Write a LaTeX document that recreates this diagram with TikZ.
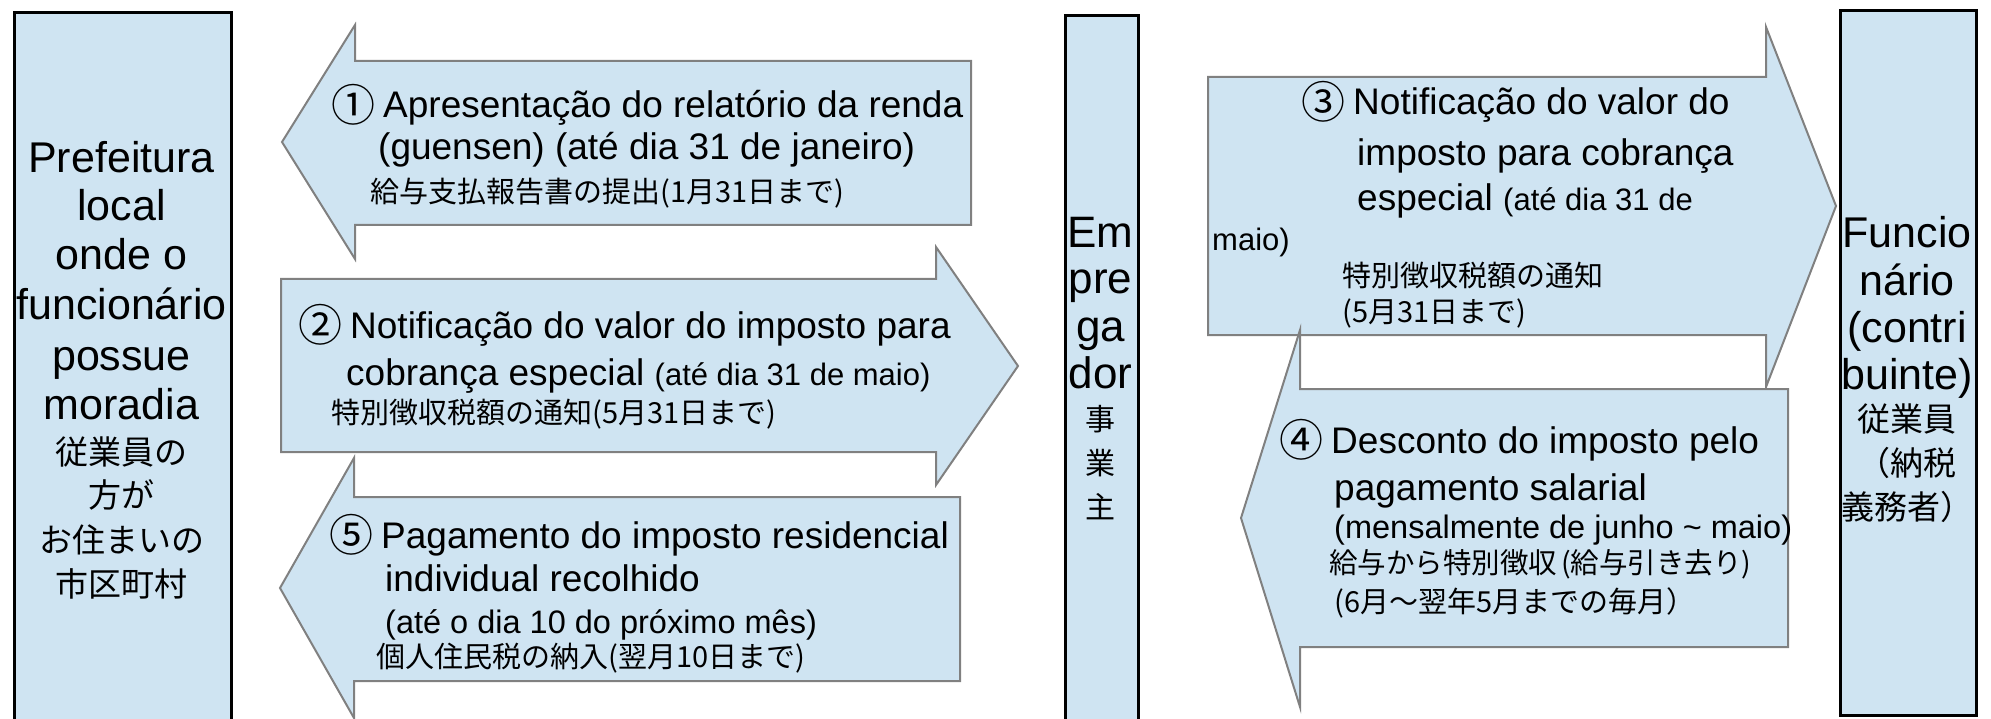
\documentclass[tikz,border=0pt]{standalone}
\usepackage{fontspec}
\setmainfont{Liberation Sans}
\newfontfamily\jp{Noto Sans CJK JP}
\definecolor{lb}{RGB}{207,228,242}
\definecolor{edgegray}{RGB}{128,128,128}
\newcommand{\mf}{\fontsize{37}{44}\selectfont}
\newcommand{\smf}{\fontsize{31}{37}\selectfont}
\newcommand{\ssmf}{\fontsize{32.5}{38}\selectfont}
\newcommand{\jf}{\jp\fontsize{29}{34}\selectfont}
\newcommand{\boxfont}{\fontsize{43}{50}\selectfont}
\newcommand{\cnum}[1]{\makebox[48pt][l]{\hspace*{-4pt}\raisebox{-3.5pt}{\jp\fontsize{44}{44}\selectfont #1}}}
\begin{document}
\begin{tikzpicture}[x=1pt,y=-1pt,
  ent/.style={draw=black,line width=3pt,fill=lb,anchor=north west,inner sep=0pt},
  arr/.style={draw=edgegray,line width=2pt,fill=lb,line join=miter},
  ln/.style={anchor=base west,inner sep=0pt},
  cl/.style={anchor=base,inner sep=0pt},
  bt/.style={cl,font=\boxfont},
  bj/.style={cl,font=\jp\fontsize{33}{40}\selectfont},
]
\useasboundingbox (0,0) rectangle (1991,719);

% entity boxes
\node[ent,minimum width=217pt,minimum height=740pt] (gov) at (13,11) {};
\node[ent,minimum width=73pt,minimum height=740pt] (emp) at (1064,14) {};
\node[ent,minimum width=136pt,minimum height=705pt] (wrk) at (1839,9) {};

% arrow 1 (to the left)
\draw[arr] (971,61) -- (355,61) -- (355,25) -- (282,142) -- (355,259) -- (355,225) -- (971,225) -- cycle;
% arrow 2 (to the right)
\draw[arr] (281,279) -- (936,279) -- (936,247) -- (1018,366) -- (936,485) -- (936,452) -- (281,452) -- cycle;
% arrow 5 (to the left)
\draw[arr] (960,497) -- (354,497) -- (354,458) -- (280,588) -- (354,718) -- (354,681) -- (960,681) -- cycle;
% arrow 3 (to the right)
\draw[arr] (1208,77) -- (1766,77) -- (1766,27) -- (1836,206) -- (1766,387) -- (1766,335) -- (1208,335) -- cycle;
% arrow 4 (to the left)
\draw[arr] (1788,389) -- (1300,389) -- (1300,330) -- (1241,518) -- (1300,707) -- (1300,647) -- (1788,647) -- cycle;

% arrow 1 text
\node[ln] (a1a) at (335,118) {\mf\cnum{①}Apresentação do relatório da renda};
\node[ln] (a1b) at (378,160) {\mf(guensen) (até dia 31 de janeiro)};
\node[ln] (a1c) at (370,203) {\jf 給与支払報告書の提出(1月31日まで)};

% arrow 2 text
\node[ln] (a2a) at (302,338) {\mf\cnum{②}Notificação do valor do imposto para};
\node[ln] (a2b) at (346,385) {\mf cobrança especial {\smf (até dia 31 de maio)}};
\node[ln] (a2c) at (331,423) {\jf 特別徴収税額の通知(5月31日まで)};

% arrow 5 text
\node[ln] (a5a) at (333,548) {\mf\cnum{⑤}Pagamento do imposto residencial};
\node[ln] (a5b) at (385,591) {\mf individual recolhido};
\node[ln] (a5c) at (385,633) {\ssmf (até o dia 10 do próximo mês)};
\node[ln] (a5d) at (376,667) {\jf 個人住民税の納入(翌月10日まで)};

% arrow 3 text
\node[ln] (a3a) at (1305,115) {\mf\cnum{③}Notificação do valor do};
\node[ln] (a3b) at (1357,166) {\mf imposto para cobrança};
\node[ln] (a3c) at (1357,211) {\mf especial {\smf (até dia 31 de}};
\node[ln] (a3d) at (1212,251) {\smf maio)};
\node[ln] (a3e) at (1342,287) {\jf 特別徴収税額の通知};
\node[ln] (a3f) at (1342,322) {\jf (5月31日まで)};

% arrow 4 text
\node[ln] (a4a) at (1283,453) {\mf\cnum{④}Desconto do imposto pelo};
\node[ln] (a4b) at (1334,500) {\mf pagamento salarial};
\node[ln] (a4c) at (1334,538) {\ssmf (mensalmente de junho \textasciitilde{} maio)};
\node[ln] (a4d) at (1329,573) {\jp\fontsize{28.5}{34}\selectfont 給与から特別徴収\hspace{4pt}(給与引き去り)};
\node[ln] (a4e) at (1334,612) {\jf (6月～翌年5月までの毎月）};

% left box text
\node[bt] (g1) at (121.5,173) {Prefeitura};
\node[bt] (g2) at (121.5,221) {local};
\node[bt] (g3) at (121.5,270) {onde o};
\node[bt] (g4) at (121.5,319) {funcionário};
\node[bt] (g5) at (121.5,370) {possue};
\node[bt] (g6) at (121.5,419) {moradia};
\node[bj] (g7) at (121.5,464) {従業員の};
\node[bj] (g8) at (121.5,507) {方が};
\node[bj] (g9) at (121.5,552) {お住まいの};
\node[bj] (g10) at (121.5,596) {市区町村};

% employer text
\node[cl,font=\fontsize{44}{50}\selectfont] (e1) at (1100.5,248) {Em};
\node[cl,font=\fontsize{44}{50}\selectfont] (e2) at (1100.5,294) {pre};
\node[cl,font=\fontsize{44}{50}\selectfont] (e3) at (1100.5,341) {ga};
\node[cl,font=\fontsize{44}{50}\selectfont] (e4) at (1100.5,388) {dor};
\node[cl,font=\jp\fontsize{30}{36}\selectfont] (e5) at (1100.5,430) {事};
\node[cl,font=\jp\fontsize{30}{36}\selectfont] (e6) at (1100.5,474) {業};
\node[cl,font=\jp\fontsize{30}{36}\selectfont] (e7) at (1100.5,518) {主};

% worker text
\node[bt] (w1) at (1907,248) {Funcio};
\node[bt] (w2) at (1907,295) {nário};
\node[bt] (w3) at (1907,342) {(contri};
\node[bt] (w4) at (1907,389) {buinte)};
\node[bj] (w5) at (1907,431) {従業員};
\node[bj] (w6) at (1907,475) {（納税};
\node[bj] (w7) at (1907,519) {義務者）};
\end{tikzpicture}
\end{document}
